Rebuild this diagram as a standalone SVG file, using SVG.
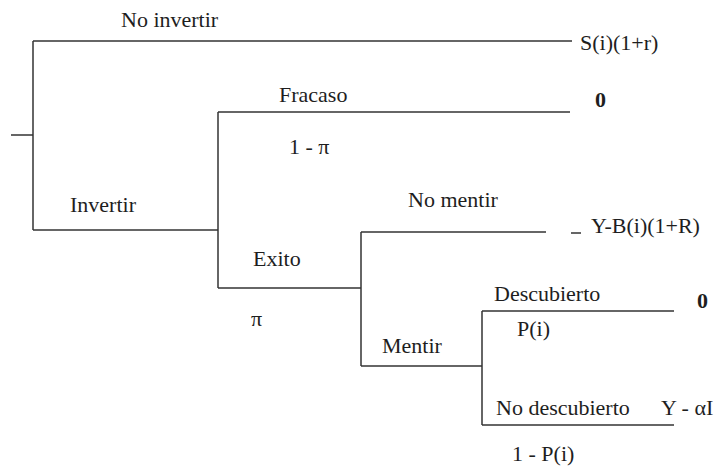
<svg xmlns="http://www.w3.org/2000/svg" width="718" height="470" viewBox="0 0 718 470">
<style>
.ln{stroke:#333;stroke-width:1.5;fill:none}
</style>
<g id="connectors" class="ln">
<path d="M11 135H33"/>
<path d="M33 41V230"/>
<path d="M33 41H572"/>
<path d="M33 230H218"/>
<path d="M218 112V288"/>
<path d="M218 112H570"/>
<path d="M218 288H361"/>
<path d="M361 232V366"/>
<path d="M361 232H546"/>
<path d="M571 233H581"/>
<path d="M361 366H482"/>
<path d="M482 311V425"/>
<path d="M482 311H674"/>
<path d="M482 425H674"/>
</g>
<g id="n-root"><text font-family="Liberation Serif" font-size="22" fill="#1e1e1e" x="121" y="27">No invertir</text><text font-family="Liberation Serif" font-size="22" fill="#1e1e1e" x="70" y="212">Invertir</text></g>
<g id="n-noinvertir"><text font-family="Liberation Serif" font-size="22" fill="#1e1e1e" x="580" y="50">S(i)(1+r)</text></g>
<g id="n-invertir"><text font-family="Liberation Serif" font-size="22" fill="#1e1e1e" x="279" y="102">Fracaso</text><text font-family="Liberation Serif" font-size="22" fill="#1e1e1e" x="289" y="154">1 - &#960;</text><text font-family="Liberation Serif" font-size="22" fill="#1e1e1e" x="253" y="266">Exito</text><text font-family="Liberation Serif" font-size="22" fill="#1e1e1e" x="251" y="326">&#960;</text></g>
<g id="n-fracaso"><text font-family="Liberation Serif" font-size="22" font-weight="bold" fill="#1e1e1e" x="595" y="107">0</text></g>
<g id="n-exito"><text font-family="Liberation Serif" font-size="22" fill="#1e1e1e" x="408" y="207">No mentir</text><text font-family="Liberation Serif" font-size="22" fill="#1e1e1e" x="382" y="353">Mentir</text></g>
<g id="n-nomentir"><text font-family="Liberation Serif" font-size="22" fill="#1e1e1e" x="591" y="233">Y-B(i)(1+R)</text></g>
<g id="n-mentir"><text font-family="Liberation Serif" font-size="22" fill="#1e1e1e" x="494" y="301">Descubierto</text><text font-family="Liberation Serif" font-size="22" fill="#1e1e1e" x="517" y="336">P(i)</text><text font-family="Liberation Serif" font-size="22" fill="#1e1e1e" x="496" y="415">No descubierto</text><text font-family="Liberation Serif" font-size="22" fill="#1e1e1e" x="512" y="461">1 - P(i)</text></g>
<g id="n-descubierto"><text font-family="Liberation Serif" font-size="22" font-weight="bold" fill="#1e1e1e" x="697" y="308">0</text></g>
<g id="n-nodescubierto"><text font-family="Liberation Serif" font-size="22" fill="#1e1e1e" x="661" y="415">Y - &#945;I</text></g>
</svg>
